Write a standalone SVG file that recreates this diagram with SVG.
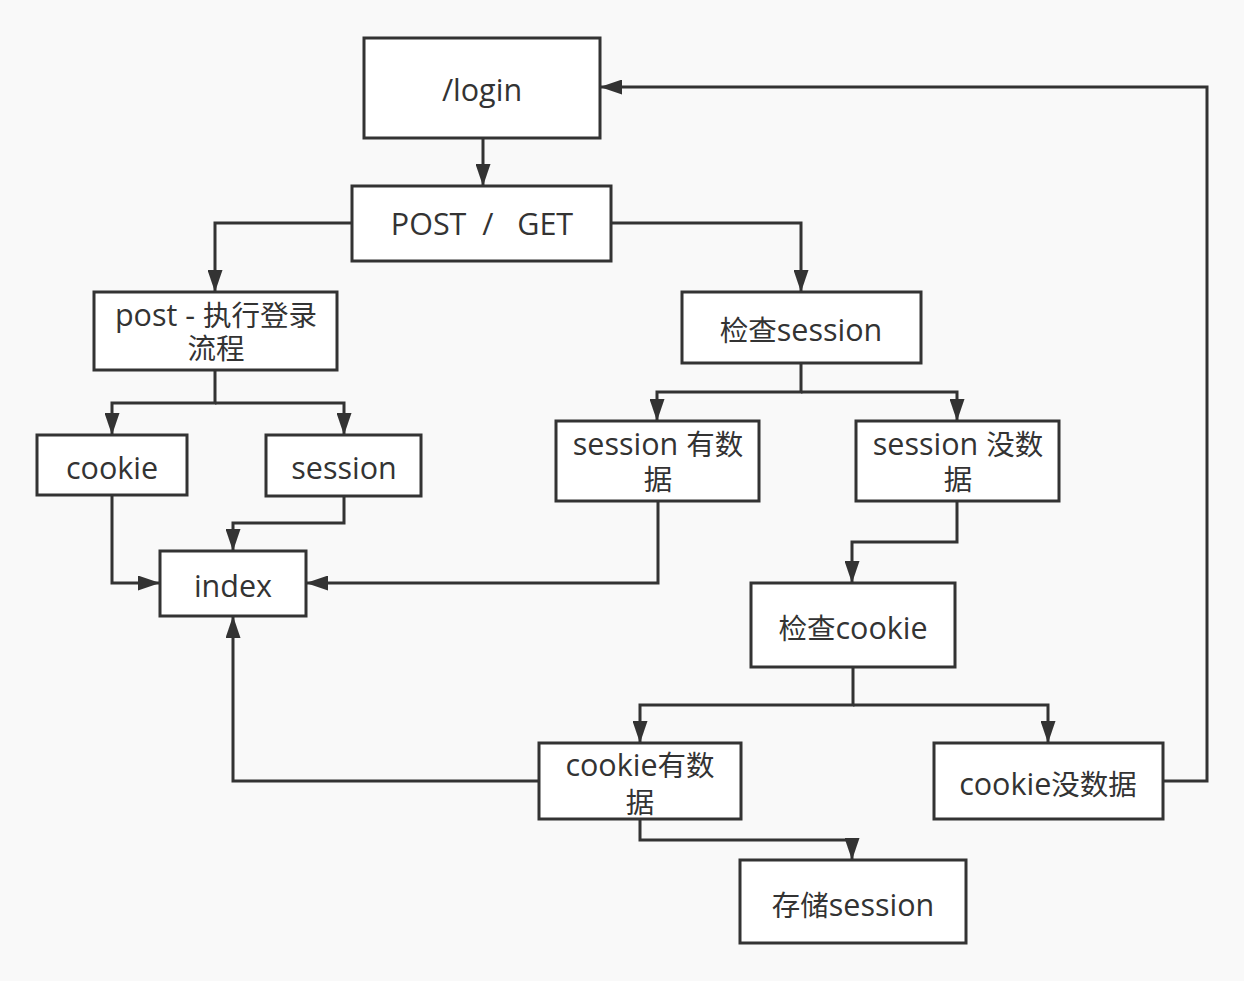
<svg xmlns="http://www.w3.org/2000/svg" width="1244" height="981" viewBox="0 0 1244 981">
<style>
.box{fill:#fff;stroke:#333;stroke-width:3}
.t{font-family:"Open Sans","Noto Sans CJK SC",sans-serif;font-size:30.5px;fill:#333;text-anchor:middle}
.z{font-family:"Noto Sans CJK SC",sans-serif;font-size:28.5px}
.c{fill:none;stroke:#333;stroke-width:3}
</style>
<defs>
<marker id="a" markerUnits="userSpaceOnUse" markerWidth="22" markerHeight="15" viewBox="0 0 22 15" refX="22" refY="7.5" orient="auto">
<path d="M0,0 L22,7.5 L0,15 Z" fill="#333"/>
</marker>
</defs>
<rect width="1244" height="981" fill="#f9f9f9"/>
<g id="connectors">
<path class="c" marker-end="url(#a)" d="M483,138 V186"/>
<path class="c" marker-end="url(#a)" d="M352,223 H215 V292"/>
<path class="c" marker-end="url(#a)" d="M611,223 H801 V292"/>
<path class="c" marker-end="url(#a)" d="M215,370 V403 H112 V435"/>
<path class="c" marker-end="url(#a)" d="M215,403 H344 V435"/>
<path class="c" marker-end="url(#a)" d="M112,495 V583 H160"/>
<path class="c" marker-end="url(#a)" d="M344,496 V523 H233 V551"/>
<path class="c" marker-end="url(#a)" d="M658,501 V583 H306"/>
<path class="c" marker-end="url(#a)" d="M801,363 V392 H657 V421"/>
<path class="c" marker-end="url(#a)" d="M801,392 H957 V421"/>
<path class="c" marker-end="url(#a)" d="M957,501 V542 H852 V583"/>
<path class="c" marker-end="url(#a)" d="M853,667 V705 H640 V743"/>
<path class="c" marker-end="url(#a)" d="M853,705 H1048 V743"/>
<path class="c" marker-end="url(#a)" d="M539,781 H233 V616"/>
<path class="c" marker-end="url(#a)" d="M640,819 V840 H852 V860"/>
<path class="c" marker-end="url(#a)" d="M1163,781 H1207 V87 H600"/>
</g>
<g id="login"><rect class="box" x="364" y="38" width="236" height="100"/><text class="t" x="482" y="101">/login</text></g>
<g id="postget"><rect class="box" x="352" y="186" width="259" height="75"/><text class="t" x="482" y="235" xml:space="preserve">POST  /   GET</text></g>
<g id="post"><rect class="box" x="94" y="292" width="243" height="78"/><text class="t" x="216" y="326">post - <tspan class="z">执行登录</tspan></text><text class="t z" x="216" y="359">流程</text></g>
<g id="cookie"><rect class="box" x="37" y="435" width="150" height="60"/><text class="t" x="112" y="479">cookie</text></g>
<g id="session"><rect class="box" x="266" y="435" width="155" height="61"/><text class="t" x="344" y="479">session</text></g>
<g id="index"><rect class="box" x="160" y="551" width="146" height="65"/><text class="t" x="233" y="597">index</text></g>
<g id="checksession"><rect class="box" x="682" y="292" width="239" height="71"/><text class="t" x="801" y="341"><tspan class="z">检查</tspan>session</text></g>
<g id="sessionyes"><rect class="box" x="556" y="421" width="203" height="80"/><text class="t" x="658" y="455">session <tspan class="z">有数</tspan></text><text class="t z" x="658" y="490">据</text></g>
<g id="sessionno"><rect class="box" x="856" y="421" width="203" height="80"/><text class="t" x="958" y="455">session <tspan class="z">没数</tspan></text><text class="t z" x="958" y="490">据</text></g>
<g id="checkcookie"><rect class="box" x="751" y="583" width="204" height="84"/><text class="t" x="853" y="639"><tspan class="z">检查</tspan>cookie</text></g>
<g id="cookieyes"><rect class="box" x="539" y="743" width="202" height="76"/><text class="t" x="640" y="776">cookie<tspan class="z">有数</tspan></text><text class="t z" x="640" y="813">据</text></g>
<g id="cookieno"><rect class="box" x="934" y="743" width="229" height="76"/><text class="t" x="1048" y="795">cookie<tspan class="z">没数据</tspan></text></g>
<g id="store"><rect class="box" x="740" y="860" width="226" height="83"/><text class="t" x="853" y="916"><tspan class="z">存储</tspan>session</text></g>
</svg>
